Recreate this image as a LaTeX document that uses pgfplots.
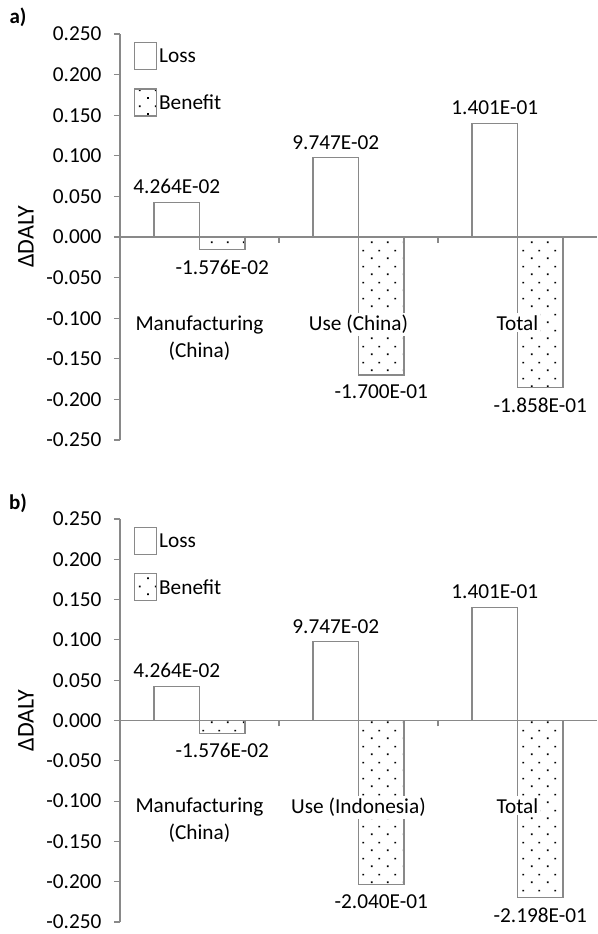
\documentclass[border=0pt]{standalone}
\usepackage{fontspec}
\setmainfont{Carlito}
\usepackage{pgfplots}
\pgfplotsset{compat=1.18}
\usetikzlibrary{patterns}
\definecolor{axgray}{RGB}{137,137,137}
\pgfdeclarepatternformonly{xdots}{\pgfqpoint{0pt}{0pt}}{\pgfqpoint{16pt}{16pt}}{\pgfqpoint{16pt}{16pt}}{%
  \pgfpathrectangle{\pgfqpoint{3.1pt}{3.1pt}}{\pgfqpoint{1.8pt}{1.8pt}}%
  \pgfpathrectangle{\pgfqpoint{11.1pt}{11.1pt}}{\pgfqpoint{1.8pt}{1.8pt}}%
  \pgfusepath{fill}}
\newcommand{\fs}{\fontsize{21.3}{27}\selectfont}
\tikzset{catlab/.style={fill=white, align=center, anchor=north, inner sep=2pt, font=\fs, text=black}}
\pgfplotsset{panel/.style={
  width=477pt, height=406pt, scale only axis,
  xmin=-0.5, xmax=2.5, ymin=-0.25, ymax=0.25,
  axis y line=left, axis x line=middle,
  axis line style={-, draw=axgray, line width=1.1pt},
  hide obscured x ticks=false, hide obscured y ticks=false,
  xtick={0.5,1.5}, xticklabels={},
  ytick distance=0.05,
  tick align=outside, major tick length=6pt,
  tick style={draw=axgray, line width=1.1pt},
  /pgf/number format/assume math mode=true,
  yticklabel style={font=\fs, xshift=-9pt, /pgf/number format/.cd, fixed, fixed zerofill, precision=3},
  ylabel={ΔDALY},
  ylabel style={at={(rel axis cs:-0.197,0.5)}, anchor=center, rotate=0, font=\fontsize{24}{27}\selectfont},
  ybar=0pt, bar width=45.5pt,
  clip=false,
  legend style={draw=none, fill=none, at={(rel axis cs:0.029,0.98)}, anchor=north west,
     font=\fs, inner sep=0pt, row sep=18pt, cells={anchor=west}},
  legend image code/.code={\draw[#1] (0pt,-13.5pt) rectangle (22pt,13.5pt);},
  point meta=explicit symbolic,
  nodes near coords,
  every node near coord/.append style={font=\fs, text=black},
  loss/.style={draw=axgray, fill=white, line width=1.1pt, every node near coord/.append style={anchor=south, inner sep=8pt}},
  benefit/.style={draw=axgray, pattern=xdots, pattern color=black, line width=1.1pt, every node near coord/.append style={anchor=north, inner sep=9.5pt}},
}}
\begin{document}
\begin{tikzpicture}
\useasboundingbox (0,0) rectangle (597pt,934pt);
% panel a
\begin{axis}[panel, at={(120pt,494pt)}, anchor=south west]
\addplot[loss] coordinates {(0,0.04264) [4.264E-02] (1,0.09747) [9.747E-02] (2,0.1401) [1.401E-01]};
\addplot[benefit] coordinates {(0,-0.01576) [-1.576E-02] (1,-0.1700) [-1.700E-01] (2,-0.1858) [-1.858E-01]};
\legend{Loss,Benefit}
\node[catlab] at (axis cs:0,-0.0938) {Manufacturing\\(China)};
\node[catlab] at (axis cs:1,-0.0938) {Use (China)};
\node[catlab] at (axis cs:2,-0.0938) {Total};
\end{axis}
\node[font=\fontsize{21}{25}\selectfont\bfseries] at (18pt,917pt) {a)};
% panel b
\begin{axis}[panel, height=403pt, at={(120pt,12pt)}, anchor=south west]
\addplot[loss] coordinates {(0,0.04264) [4.264E-02] (1,0.09747) [9.747E-02] (2,0.1401) [1.401E-01]};
\addplot[benefit] coordinates {(0,-0.01576) [-1.576E-02] (1,-0.2040) [-2.040E-01] (2,-0.2198) [-2.198E-01]};
\legend{Loss,Benefit}
\node[catlab] at (axis cs:0,-0.0938) {Manufacturing\\(China)};
\node[catlab] at (axis cs:1,-0.0938) {Use (Indonesia)};
\node[catlab] at (axis cs:2,-0.0938) {Total};
\end{axis}
\node[font=\fontsize{21}{25}\selectfont\bfseries] at (18pt,431pt) {b)};
\end{tikzpicture}
\end{document}
